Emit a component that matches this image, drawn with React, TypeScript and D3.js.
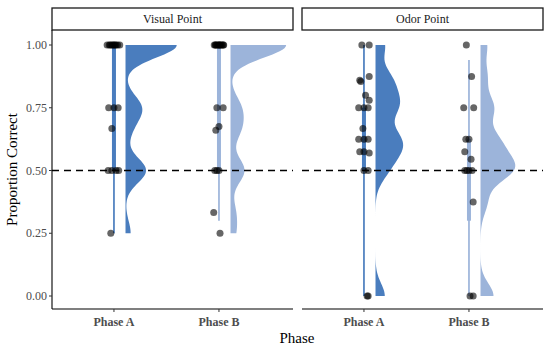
import React from "react";
import * as d3 from "d3";

// facets, groups and colours
const panels = ["Visual Point", "Odor Point"];
const phases = ["Phase A", "Phase B"];
const phaseColors = ["#4a7dbe", "#9cb4da"];
const yTicks = [0, 0.25, 0.5, 0.75, 1];
const chanceLevel = 0.5;

// proportion correct per subject, and the horizontal jitter seen in the plot (category units)
const visualA = [1, 1, 1, 1, 1, 1, 1, 1, 1, 1, 0.75, 0.75, 0.75, 0.667, 0.5, 0.5, 0.5, 0.5, 0.25];
const visualAJitter = [-0.065, -0.045, -0.035, -0.02, -0.01, 0, 0.01, 0.02, 0.035, 0.055, -0.05, 0, 0.04, -0.02, -0.055, -0.02, 0.02, 0.045, -0.03];

const visualB = [1, 1, 1, 1, 1, 1, 1, 1, 1, 1, 1, 1, 0.75, 0.75, 0.675, 0.66, 0.5, 0.5, 0.5, 0.333, 0.25];
const visualBJitter = [-0.045, -0.035, -0.03, -0.02, -0.01, 0, 0.005, 0.01, 0.02, 0.03, 0.04, 0.045, -0.02, 0.04, 0, -0.03, -0.04, -0.02, 0, -0.05, 0.01];

const odorA = [1, 1, 0.875, 0.86, 0.855, 0.8, 0.78, 0.75, 0.75, 0.75, 0.667, 0.625, 0.625, 0.625, 0.575, 0.575, 0.57, 0.5, 0.5, 0, 0];
const odorAJitter = [-0.02, 0.05, 0.05, -0.04, -0.03, 0.015, 0.05, -0.05, 0, 0.04, -0.01, -0.05, 0, 0.04, -0.04, 0, 0.05, 0, 0.04, 0.03, 0.04];

const odorB = [1, 0.875, 0.75, 0.75, 0.625, 0.625, 0.575, 0.545, 0.5, 0.5, 0.5, 0.5, 0.375, 0, 0];
const odorBJitter = [-0.025, 0.025, -0.05, 0.045, -0.03, 0, -0.04, 0.02, -0.04, -0.02, 0, 0.03, 0.04, 0.01, 0.04];

// boxplot stats: [lower whisker, Q1, Q3, upper whisker]
const visualABox = [0.25, 0.5, 1, 1];
const visualBBox = [0.3, 0.5, 1, 1];
const odorABox = [0, 0.5, 0.75, 1];
const odorBBox = [0, 0.3, 0.625, 0.94];

const groups = [
  { panel: 0, phase: 0, values: visualA, jitter: visualAJitter, box: visualABox },
  { panel: 0, phase: 1, values: visualB, jitter: visualBJitter, box: visualBBox },
  { panel: 1, phase: 0, values: odorA, jitter: odorAJitter, box: odorABox },
  { panel: 1, phase: 1, values: odorB, jitter: odorBJitter, box: odorBBox },
];

const W = 550, H = 349;
const panelLeft = [52, 302];
const panelW = 241;
const panelTop = 30, panelBottom = 309;
const stripTop = 8;
const font = "Liberation Serif, DejaVu Serif, serif";

const bw = 0.05;
const violinNudge = 0.11;
const violinHalf = 0.53;

const kde = (vals: number[]) => (v: number) =>
  d3.sum(vals, (x) => Math.exp(-0.5 * ((v - x) / bw) ** 2)) / (vals.length * bw * Math.sqrt(2 * Math.PI));

export default function App() {
  const y = d3.scaleLinear().domain([0, 1]).range([296, 45]);
  const xScales = panelLeft.map((l) => d3.scaleLinear().domain([0.41, 2.705]).range([l, l + panelW]));

  const profiles = groups.map((g) => {
    const f = kde(g.values);
    const [lo, hi] = d3.extent(g.values) as [number, number];
    const vs = d3.range(0, 121).map((i) => lo + ((hi - lo) * i) / 120);
    return vs.map((v) => ({ v, d: f(v) }));
  });
  const maxD = d3.max(profiles.flat(), (p) => p.d) as number;
  const widthScale = d3.scaleLinear().domain([0, maxD]).range([0, violinHalf]);

  const txt = { fontFamily: font };

  return (
    <svg width={W} height={H} style={{ position: "absolute", left: 0, top: 0, background: "#fff", fontFamily: font }}>
      {panels.map((p, i) => (
        <g key={p}>
          <rect x={panelLeft[i]} y={stripTop} width={panelW} height={panelTop - stripTop} fill="#fff" stroke="#1a1a1a" strokeWidth={1.3} />
          <text style={txt} x={panelLeft[i] + panelW / 2} y={23} textAnchor="middle" fontSize={12} fill="#1a1a1a">{p}</text>
          <line x1={panelLeft[i]} x2={panelLeft[i] + panelW} y1={panelBottom} y2={panelBottom} stroke="#000" strokeWidth={1.1} />
          {phases.map((ph, j) => {
            const xx = xScales[i](j + 1);
            return (
              <g key={ph}>
                <line x1={xx} x2={xx} y1={panelBottom} y2={panelBottom + 3} stroke="#333" />
                <text style={txt} x={xx} y={326} textAnchor="middle" fontSize={12} fontWeight="bold" fill="#4d4d4d">{ph}</text>
              </g>
            );
          })}
        </g>
      ))}

      {/* y axis */}
      <line x1={panelLeft[0]} x2={panelLeft[0]} y1={panelTop} y2={panelBottom} stroke="#000" strokeWidth={1.1} />
      {yTicks.map((t) => (
        <g key={t}>
          <line x1={panelLeft[0] - 3} x2={panelLeft[0]} y1={y(t)} y2={y(t)} stroke="#333" />
          <text style={txt} x={panelLeft[0] - 5} y={y(t) + 4} textAnchor="end" fontSize={12} fill="#4d4d4d">{t.toFixed(2)}</text>
        </g>
      ))}

      {/* half violins */}
      {groups.map((g, k) => {
        const xs = xScales[g.panel];
        const base = g.phase + 1 + violinNudge;
        const area = d3
          .area<{ v: number; d: number }>()
          .y((p) => y(p.v))
          .x0(xs(base))
          .x1((p) => xs(base + widthScale(p.d)));
        return <path key={"v" + k} d={area(profiles[k]) || ""} fill={phaseColors[g.phase]} />;
      })}

      {/* narrow boxplots */}
      {groups.map((g, k) => {
        const xx = xScales[g.panel](g.phase + 1);
        const [lo, q1, q3, hi] = g.box;
        const c = phaseColors[g.phase];
        return (
          <g key={"b" + k}>
            <line x1={xx} x2={xx} y1={y(lo)} y2={y(hi)} stroke={c} strokeWidth={1.7} />
            <rect x={xx - 2} width={4} y={y(q3)} height={y(q1) - y(q3)} fill={c} />
          </g>
        );
      })}

      {/* chance line */}
      {panels.map((p, i) => (
        <line key={"h" + p} x1={panelLeft[i]} x2={panelLeft[i] + panelW} y1={y(chanceLevel)} y2={y(chanceLevel)} stroke="#000" strokeWidth={1.6} strokeDasharray="7,5" />
      ))}

      {/* jittered points */}
      {groups.map((g, k) =>
        g.values.map((v, m) => (
          <circle key={"p" + k + "-" + m} cx={xScales[g.panel](g.phase + 1 + g.jitter[m])} cy={y(v)} r={3.5} fill="#000" fillOpacity={0.6} />
        ))
      )}

      <text style={txt} x={297} y={343} textAnchor="middle" fontSize={15} fill="#000">Phase</text>
      <text style={txt} transform={`translate(17,${(panelTop + panelBottom) / 2}) rotate(-90)`} textAnchor="middle" fontSize={15} fill="#000">Proportion Correct</text>
    </svg>
  );
}
